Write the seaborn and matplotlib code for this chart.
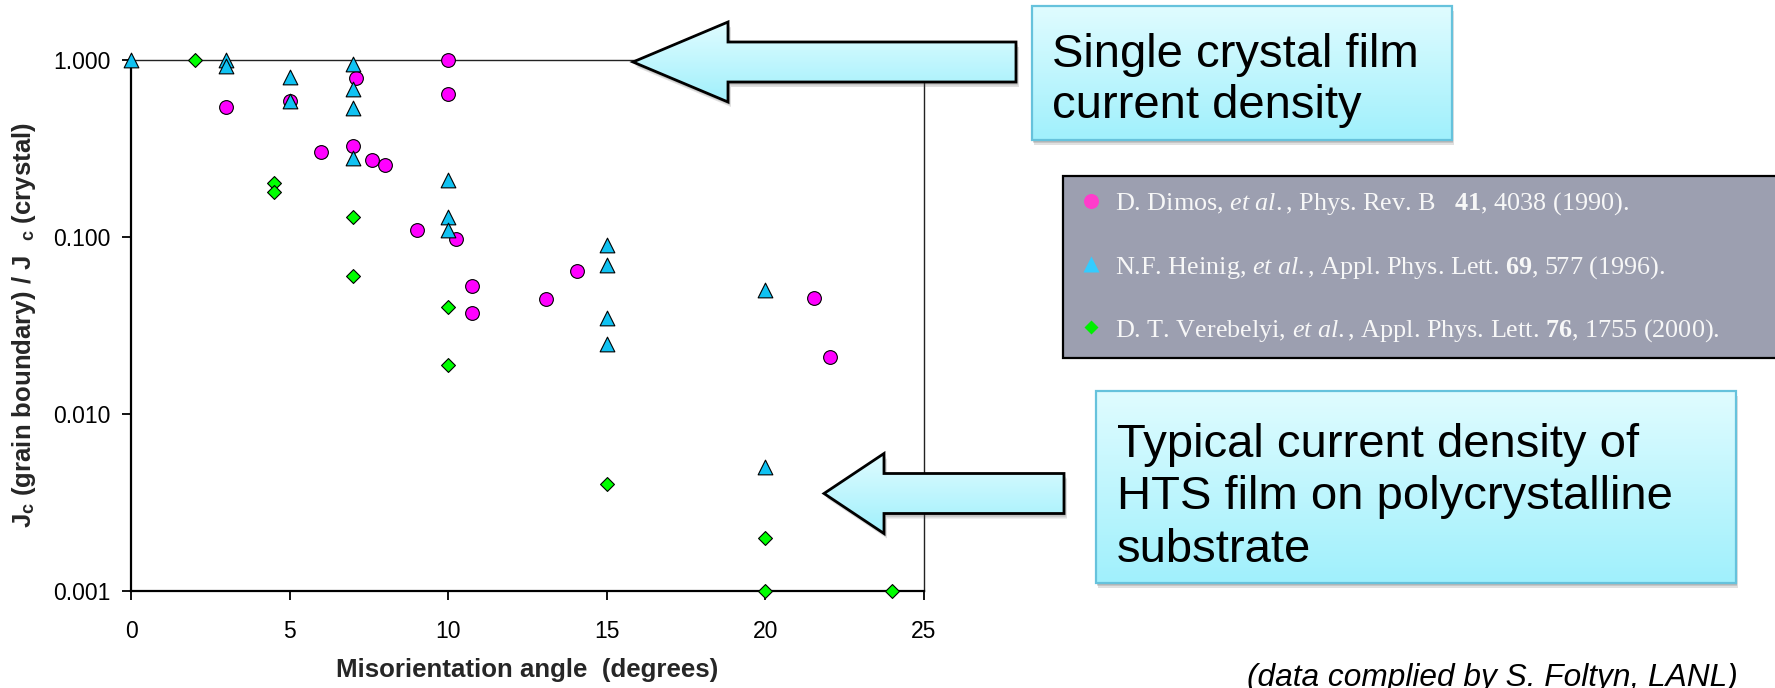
import numpy as np
import pandas as pd
import matplotlib
matplotlib.use("Agg")
import matplotlib.pyplot as plt
import seaborn as sns
from matplotlib.patches import Polygon
from matplotlib.lines import Line2D
from matplotlib.ticker import NullLocator, FixedLocator, FixedFormatter

# ---------------- data ----------------
dimos_angle = [3, 5, 6, 7, 7.1, 7.6, 8, 9, 10, 10, 10.25, 10.75, 10.75, 13.1, 14.05, 21.55, 22.05]
dimos_ratio = [0.54, 0.586, 0.303, 0.328, 0.794, 0.271, 0.254, 0.109, 1.0, 0.645, 0.097,
               0.0526, 0.037, 0.0448, 0.0645, 0.045, 0.021]

heinig_angle = [0, 3, 3, 5, 5, 7, 7, 7, 7, 10, 10, 10, 15, 15, 15, 15, 20, 20]
heinig_ratio = [1.0, 1.0, 0.93, 0.80, 0.59, 0.95, 0.69, 0.533, 0.278, 0.21, 0.129, 0.11,
                0.090, 0.0695, 0.035, 0.025, 0.050, 0.005]

verebelyi_angle = [2, 4.5, 4.5, 7, 7, 10, 10, 15, 20, 20, 24]
verebelyi_ratio = [1.0, 0.201, 0.18, 0.130, 0.060, 0.040, 0.019, 0.004, 0.002, 0.001, 0.001]

x_ticks = [0, 5, 10, 15, 20, 25]
x_tick_labels = ["0", "5", "10", "15", "20", "25"]
y_ticks = [0.001, 0.01, 0.1, 1.0]
y_tick_labels = ["0.001", "0.010", "0.100", "1.000"]

legend_labels = [
    r"D. Dimos, $\mathit{et\ al.}$, Phys. Rev. B   $\mathbf{41}$, 4038 (1990).",
    r"N.F. Heinig, $\mathit{et\ al.}$, Appl. Phys. Lett. $\mathbf{69}$, 577 (1996).",
    r"D. T. Verebelyi, $\mathit{et\ al.}$, Appl. Phys. Lett. $\mathbf{76}$, 1755 (2000).",
]
callout_top = "Single crystal film\ncurrent density"
callout_bottom = "Typical current density of\nHTS film on polycrystalline\nsubstrate"
footnote = "(data complied by S. Foltyn, LANL)"

# ---------------- style ----------------
sns.set_style("white")
plt.rcParams["font.family"] = ["Liberation Sans", "DejaVu Sans"]
plt.rcParams["mathtext.fontset"] = "custom"
plt.rcParams["mathtext.rm"] = "Liberation Serif"
plt.rcParams["mathtext.it"] = "Liberation Serif:italic"
plt.rcParams["mathtext.bf"] = "Liberation Serif:bold"

W, H = 1775, 688
fig = plt.figure(figsize=(W / 100, H / 100), dpi=100)
fig.patch.set_facecolor("white")

# axes position in pixels: left 131.2, right 923.7, top 60, bottom 591
axL, axR, axT, axB = 131.2, 923.7, 60.0, 591.0
ax = fig.add_axes([axL / W, 1 - axB / H, (axR - axL) / W, (axB - axT) / H], zorder=1)
ax.set_facecolor("white")

df = pd.concat([
    pd.DataFrame({"angle": dimos_angle, "ratio": dimos_ratio, "source": "Dimos"}),
    pd.DataFrame({"angle": heinig_angle, "ratio": heinig_ratio, "source": "Heinig"}),
    pd.DataFrame({"angle": verebelyi_angle, "ratio": verebelyi_ratio, "source": "Verebelyi"}),
], ignore_index=True)

series_style = {
    "Dimos": dict(marker="o", s=98, color="#ff00ff"),
    "Heinig": dict(marker="^", s=112, color="#10c2f2"),
    "Verebelyi": dict(marker="D", s=50, color="#00ff00"),
}
for src, st in series_style.items():
    sns.scatterplot(data=df[df["source"] == src], x="angle", y="ratio", ax=ax,
                    marker=st["marker"], s=st["s"], color=st["color"],
                    edgecolor="black", linewidth=0.8, clip_on=False, zorder=3,
                    legend=False)

ax.set_yscale("log")
ax.set_xlim(0, 25)
ax.set_ylim(0.001, 1.0)
ax.xaxis.set_major_locator(FixedLocator(x_ticks))
ax.xaxis.set_major_formatter(FixedFormatter(x_tick_labels))
ax.yaxis.set_major_locator(FixedLocator(y_ticks))
ax.yaxis.set_major_formatter(FixedFormatter(y_tick_labels))
ax.yaxis.set_minor_locator(NullLocator())
ax.xaxis.set_minor_locator(NullLocator())

for side in ["left", "bottom"]:
    ax.spines[side].set_linewidth(1.6)
    ax.spines[side].set_color("black")
for side in ["top", "right"]:
    ax.spines[side].set_linewidth(1.0)
    ax.spines[side].set_color("#222222")
    ax.spines[side].set_visible(True)

ax.tick_params(axis="both", which="major", direction="out", length=6.3, width=1.3,
               labelsize=16.5, colors="black", top=False, right=False,
               bottom=True, left=True)
ax.tick_params(axis="x", pad=14.5)
ax.tick_params(axis="y", pad=8.3)

ax.set_xlabel("Misorientation angle  (degrees)", fontsize=18.6, fontweight="bold")
ax.set_ylabel(r"J$_\mathregular{c}$ (grain boundary) / J  $_\mathregular{c}$ (crystal)",
              fontsize=18.5, fontweight="bold")
ax.xaxis.set_label_coords(0.5, -(657.5 - axB) / (axB - axT))
ax.yaxis.set_label_coords((38.3 - axL) / (axR - axL), 0.5)

# ---------------- legend (grey box, extends past the right edge) ----------------
handles = [
    Line2D([], [], ls="", marker="o", markersize=10.8, color="#ff3ccb", markeredgecolor="none"),
    Line2D([], [], ls="", marker="^", markersize=12, color="#33ccff", markeredgecolor="none"),
    Line2D([], [], ls="", marker="D", markersize=7.6, color="#00f000", markeredgecolor="none"),
]
leg = fig.legend(handles, legend_labels, loc="upper left",
                 bbox_to_anchor=(1063 / W, 1 - 176 / H, (1810 - 1063) / W, 0.0),
                 bbox_transform=fig.transFigure, mode="expand", borderaxespad=0,
                 prop={"family": "Liberation Serif", "size": 18.8},
                 labelcolor="#f7f7f7", frameon=True, fancybox=False, shadow=False,
                 framealpha=1.0, facecolor="#9c9fb0", edgecolor="black",
                 borderpad=0.55, labelspacing=1.4, handlelength=1.05,
                 handletextpad=0.4, numpoints=1)
leg.get_frame().set_linewidth(1.6)

# ---------------- overlay in pixel coordinates ----------------
ov = fig.add_axes([0, 0, 1, 1], zorder=10)
ov.set_xlim(0, W)
ov.set_ylim(H, 0)
ov.axis("off")
ov.patch.set_alpha(0)

TOP_RGB = np.array([224, 252, 255]) / 255.0
BOT_RGB = np.array([160, 240, 252]) / 255.0


def gradient_shape(verts, edgecolor, lw, z, shadow=(3, 5)):
    verts = np.asarray(verts, dtype=float)
    # soft shadow
    for k, a in [(1.0, 0.18), (0.65, 0.18), (0.35, 0.15)]:
        sh = Polygon(verts + np.array(shadow) * k, closed=True, facecolor="#555555",
                     edgecolor="none", alpha=a, zorder=z - 0.5)
        ov.add_patch(sh)
    poly = Polygon(verts, closed=True, facecolor="none", edgecolor=edgecolor,
                   lw=lw, zorder=z + 0.2, joinstyle="miter")
    ov.add_patch(poly)
    x0, x1 = verts[:, 0].min(), verts[:, 0].max()
    y0, y1 = verts[:, 1].min(), verts[:, 1].max()
    t = np.linspace(0, 1, 256)[:, None, None]
    arr = TOP_RGB[None, None, :] * (1 - t) + BOT_RGB[None, None, :] * t
    im = ov.imshow(arr, extent=(x0, x1, y1, y0), origin="upper", aspect="auto",
                   interpolation="bilinear", zorder=z)
    clip = Polygon(verts, closed=True, transform=ov.transData)
    im.set_clip_path(clip)


def rect(x0, y0, x1, y1):
    return [(x0, y0), (x1, y0), (x1, y1), (x0, y1)]


def left_arrow(tip_x, cy, head_x, head_half, shaft_half, end_x):
    return [(tip_x, cy), (head_x, cy - head_half), (head_x, cy - shaft_half),
            (end_x, cy - shaft_half), (end_x, cy + shaft_half),
            (head_x, cy + shaft_half), (head_x, cy + head_half)]


# arrows
gradient_shape(left_arrow(633, 62, 728, 40, 20, 1016), "black", 2.0, 4)
gradient_shape(left_arrow(824, 493.5, 884, 40, 20, 1064), "black", 2.0, 4)

# callout boxes
gradient_shape(rect(1032, 6, 1452, 140), "#66c2dc", 1.6, 6, shadow=(2, 5))
gradient_shape(rect(1096, 391, 1736, 583), "#66c2dc", 1.6, 6, shadow=(2, 5))

# va="baseline" anchors the baseline of the last line
ov.text(1052, 118, callout_top, fontsize=34, family="Liberation Sans", color="black",
        ha="left", va="baseline", linespacing=1.2, zorder=8)
ov.text(1117, 561.7, callout_bottom, fontsize=34, family="Liberation Sans", color="black",
        ha="left", va="baseline", linespacing=1.25, zorder=8)

ov.text(1738, 686, footnote, fontsize=22.8, family="Liberation Sans", style="italic",
        color="black", ha="right", va="baseline", zorder=8)

ov.set_xlim(0, W)
ov.set_ylim(H, 0)

fig.savefig("out.png", dpi=100)
